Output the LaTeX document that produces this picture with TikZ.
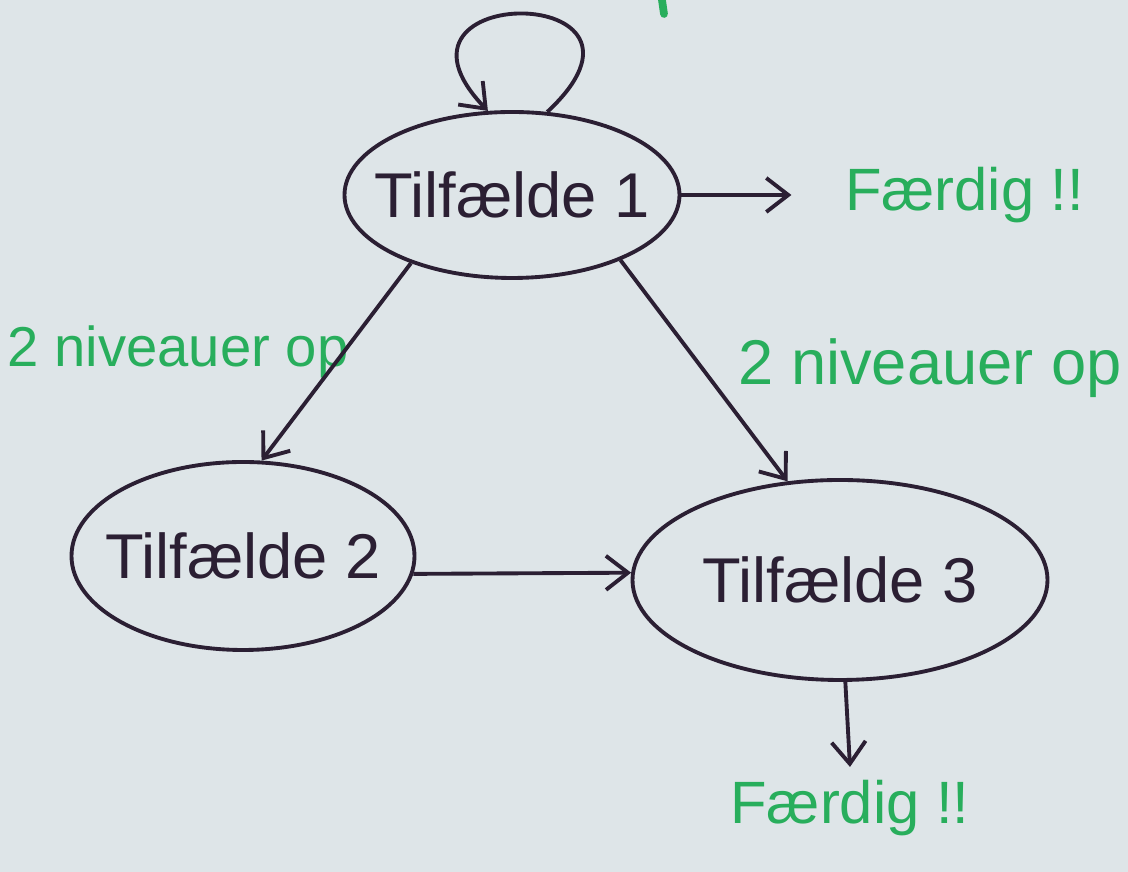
\documentclass[tikz,border=0pt]{standalone}
\usepackage{fontspec}
\setmainfont{Liberation Sans}
\usetikzlibrary{shapes.geometric, positioning, arrows.meta}
\definecolor{ink}{HTML}{2B1F33}
\definecolor{marker}{HTML}{28AE5C}
\definecolor{paper}{HTML}{DEE5E8}

\begin{document}
\begin{tikzpicture}[
	node distance = 10mm and 15mm,
	->,>={Straight Barb[length=2.2mm,width=3.4mm]},line width=1.1pt,
	color=ink, font=\fontsize{18}{22}\selectfont,
	state/.style = {ellipse, draw, inner sep=0pt, label=center:#1},
	note/.style = {text=marker, font=\fontsize{#1}{#1}\selectfont},
	note/.default = 17
	]
	\path[fill=paper] (0,0) rectangle (11.28,8.72);
	\useasboundingbox (0,0) rectangle (11.28,8.72);
	
	\node (t1) [state=Tilfælde 1, minimum width=33.5mm, minimum height=16.6mm] at (5.12,6.77) {};
	\node (t2) [state=Tilfælde 2, minimum width=34.3mm, minimum height=18.8mm] at (2.43,3.16) {};
	\node (t3) [state=Tilfælde 3, minimum width=41.5mm, minimum height=20mm] at (8.40,2.92) {};
	\node (f1) [note, right=of t1] {Færdig !!};
	\node (f2) [note, below=8.5mm of t3, xshift=1mm] {Færdig !!};
	\node (lblA) [note=16] at (1.78,5.20) {2 niveauer op};
	\node (lblB) [note=18] at (9.30,5.04) {2 niveauer op};
	%
	\draw (t1.67) .. controls +(1.4,1.3) and +(-1.25,1.3) .. (t1.106);
	\draw[shorten >=4mm] (t1.east) -- (f1.west);
	\draw (t1.214) -- (t2.79);
	\draw (t1.329) -- (t3.118);
	\draw (t2.-6) -- (t3.178);
	\draw (t3.-87) -- (f2.north);
	\draw[-, marker, line width=2.2pt, line cap=round] (6.62,8.72) -- (6.64,8.58);
\end{tikzpicture}
\end{document}
